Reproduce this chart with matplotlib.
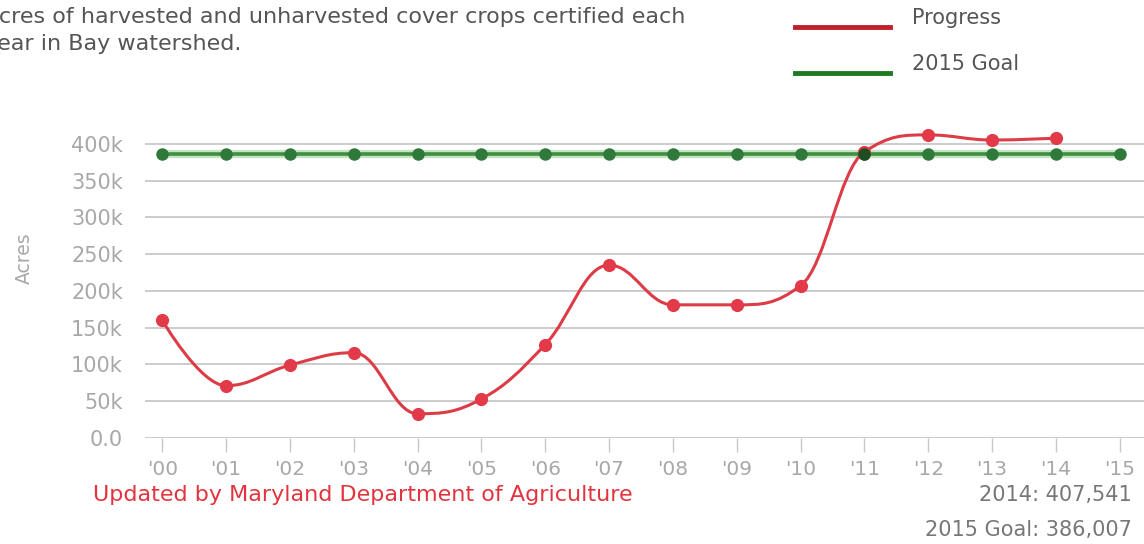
import matplotlib
matplotlib.use("Agg")
import matplotlib.pyplot as plt
from matplotlib.path import Path
from matplotlib.patches import PathPatch
from matplotlib.lines import Line2D
import numpy as np

# Cover crop acres certified each year
years = ["'00", "'01", "'02", "'03", "'04", "'05", "'06", "'07",
         "'08", "'09", "'10", "'11", "'12", "'13", "'14", "'15"]
progress = [160000, 71000, 99000, 116000, 33000, 53000, 127000, 235000,
            181000, 181000, 207000, 389000, 412000, 405000, 407541]
goal_value = 386007
goal = [goal_value] * len(years)
y_ticks = [0, 50000, 100000, 150000, 200000, 250000, 300000, 350000, 400000]
y_tick_labels = ["0.0", "50k", "100k", "150k", "200k", "250k", "300k", "350k", "400k"]

RED = "#dc3c46"
RED_MARK = "#e23a48"
GREEN = "#3f8f3f"
GREEN_MARK = "#2f7a3a"
GRID = "#c8c8c8"
TICK_TXT = "#a8a8a8"

plt.rcParams["font.family"] = ["DejaVu Sans"]


def spline_path(xs, ys, smoothing=1.5):
    """Cubic Bezier path through the points, Highcharts-style spline."""
    denom = smoothing + 1
    n = len(xs)
    right = [None] * n
    verts = [(xs[0], ys[0])]
    codes = [Path.MOVETO]
    for i in range(1, n):
        x, y = xs[i], ys[i]
        lx, ly = xs[i - 1], ys[i - 1]
        left_c = (x, y)
        if i < n - 1:
            nx, ny = xs[i + 1], ys[i + 1]
            lcx = (smoothing * x + lx) / denom
            lcy = (smoothing * y + ly) / denom
            rcx = (smoothing * x + nx) / denom
            rcy = (smoothing * y + ny) / denom
            corr = 0.0
            if rcx != lcx:
                corr = (rcy - lcy) * (rcx - x) / (rcx - lcx) + y - rcy
            lcy += corr
            rcy += corr
            if lcy > ly and lcy > y:
                lcy = max(ly, y); rcy = 2 * y - lcy
            elif lcy < ly and lcy < y:
                lcy = min(ly, y); rcy = 2 * y - lcy
            if rcy > ny and rcy > y:
                rcy = max(ny, y); lcy = 2 * y - rcy
            elif rcy < ny and rcy < y:
                rcy = min(ny, y); lcy = 2 * y - rcy
            left_c = (lcx, lcy)
            right[i] = (rcx, rcy)
        prev_c = right[i - 1] if right[i - 1] is not None else (lx, ly)
        verts += [prev_c, left_c, (x, y)]
        codes += [Path.CURVE4] * 3
    return Path(verts, codes)


fig = plt.figure(figsize=(11.44, 5.44), dpi=100)
W, H = 1144, 544
ax_left, ax_right = 145, 1144
ax_bottom_px, ax_top_px = 438, 129
ax = fig.add_axes([ax_left / W, 1 - ax_bottom_px / H,
                   (ax_right - ax_left) / W, (ax_bottom_px - ax_top_px) / H])

x_goal = np.arange(len(years))
x_prog = np.arange(len(progress))

ax.set_xlim(-0.27, 15.38)
ax.set_ylim(0, 420000)

for yt in y_ticks:
    ax.axhline(yt, color=GRID, lw=1.3, zorder=1)

# Goal line
ax.plot(x_goal, goal, color="#9fd09f", lw=6, alpha=0.6, zorder=2, solid_capstyle="butt")
ax.plot(x_goal, goal, color=GREEN, lw=2.6, zorder=3)
ax.plot(x_goal, goal, "o", color=GREEN_MARK, ms=9, mec="none", zorder=3.5)

# Progress spline
ax.add_patch(PathPatch(spline_path(list(x_prog), list(progress)), fill=False,
                       ec=RED, lw=2.2, zorder=4, capstyle="round", joinstyle="round"))
ax.plot(x_prog, progress, "o", color=RED_MARK, ms=9.5, mec="none", zorder=5)
# goal meets progress in '11: dark overlap marker
ax.plot([11], [goal_value], "o", color="#1f4d22", ms=9, mec="none", zorder=5.5)

ax.set_yticks(y_ticks)
ax.set_yticklabels(y_tick_labels)
ax.set_xticks(x_goal)
ax.set_xticklabels(years)
for s in ax.spines.values():
    s.set_visible(False)
ax.tick_params(axis="y", length=0, pad=16, labelsize=15, labelcolor=TICK_TXT)
ax.tick_params(axis="x", length=10, width=1, color=GRID, pad=6,
               labelsize=14.5, labelcolor=TICK_TXT, direction="out")

# Y axis title
fig.text(24 / W, 1 - 258 / H, "Acres", rotation=90, color=TICK_TXT,
         fontsize=13.5, ha="center", va="center")

# Title (runs off the left edge)
fig.text(-16 / W, 1 - 30.5 / H,
         "Acres of harvested and unharvested cover crops certified each\nyear in Bay watershed.",
         fontsize=16, color="#555555", ha="left", va="center", linespacing=1.42)

# Legend
fig.add_artist(Line2D([795 / W, 890 / W], [1 - 27 / H, 1 - 27 / H], color="#c0202a", lw=3.5))
fig.add_artist(Line2D([795 / W, 890 / W], [1 - 73 / H, 1 - 73 / H], color="#1f7a1f", lw=3.5))
fig.text(912 / W, 1 - 18 / H, "Progress", fontsize=15, color="#555555", va="center")
fig.text(912 / W, 1 - 64 / H, "2015 Goal", fontsize=15, color="#555555", va="center")

# Footer
fig.text(93 / W, 1 - 495 / H, "Updated by Maryland Department of Agriculture",
         fontsize=16, color="#e3343e", va="center")
fig.text(1132 / W, 1 - 495 / H, "2014: {:,}".format(progress[-1]),
         fontsize=15, color="#777777", va="center", ha="right")
fig.text(1132 / W, 1 - 530 / H, "2015 Goal: {:,}".format(goal_value),
         fontsize=15, color="#777777", va="center", ha="right")

fig.savefig("out.png", dpi=100)
